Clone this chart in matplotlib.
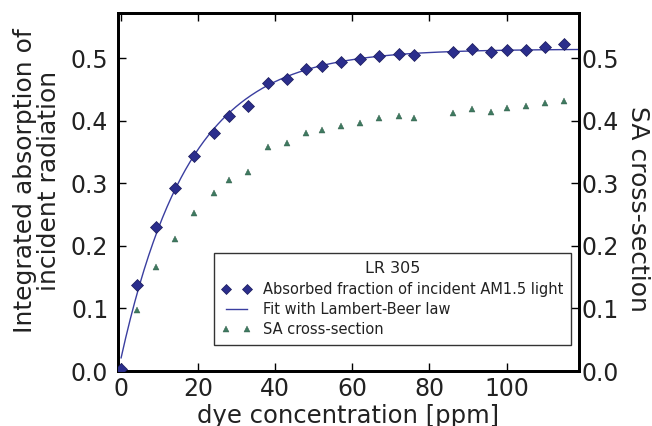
import numpy as np
import matplotlib
matplotlib.use("Agg")
import matplotlib.pyplot as plt

# concentration [ppm]
conc = [0, 4, 9, 14, 19, 24, 28, 33, 38, 43, 48, 52, 57, 62, 67, 72, 76,
        86, 91, 96, 100, 105, 110, 115]
absorbed = [0.004, 0.137, 0.230, 0.293, 0.343, 0.381, 0.408, 0.423, 0.460,
            0.467, 0.483, 0.487, 0.493, 0.498, 0.504, 0.507, 0.505,
            0.510, 0.514, 0.509, 0.513, 0.513, 0.518, 0.522]
sa_cross = [0.0, 0.098, 0.166, 0.211, 0.252, 0.284, 0.306, 0.318, 0.358,
            0.364, 0.381, 0.385, 0.391, 0.396, 0.404, 0.408, 0.405,
            0.413, 0.418, 0.414, 0.420, 0.423, 0.429, 0.432]
yticks = [0.0, 0.1, 0.2, 0.3, 0.4, 0.5]
xticks = [0, 20, 40, 60, 80, 100]

# Lambert-Beer fit: y = a*(1-exp(-k c)) + b, least squares over k grid
c_arr = np.array(conc, dtype=float)
a_arr = np.array(absorbed)
best = None
for k in np.linspace(0.01, 0.2, 1901):
    A = np.column_stack([1 - np.exp(-k * c_arr), np.ones_like(c_arr)])
    coef, res, _, _ = np.linalg.lstsq(A, a_arr, rcond=None)
    r = np.sum((A @ coef - a_arr) ** 2)
    if best is None or r < best[0]:
        best = (r, k, coef)
_, k_fit, (a_fit, b_fit) = best
c_fit = np.linspace(0, 119, 400)
y_fit = a_fit * (1 - np.exp(-k_fit * c_fit)) + b_fit

plt.rcParams['font.family'] = ['DejaVu Sans']
txt = '#222222'
fig = plt.figure(figsize=(6.52, 4.26), dpi=100)
ax = fig.add_axes([0.181, 0.129, 0.707, 0.8405])
ax2 = ax.twinx()

dcol = '#2b2e8c'
tcol = '#3f7a60'
l1, = ax.plot(conc, absorbed, 'D', color=dcol, mec='#1a1a5a', mew=0.5, ms=6,
              label='Absorbed fraction of incident AM1.5 light', zorder=3)
l2, = ax.plot(c_fit, y_fit, '-', color='#3a3ea0', lw=1.0,
              label='Fit with Lambert-Beer law', zorder=2)
l3, = ax2.plot(conc, sa_cross, '^', color=tcol, mec='#2f5a48', mew=0.3, ms=4.7,
               label='SA cross-section')

for a in (ax, ax2):
    a.set_ylim(0, 0.572)
    a.set_yticks(yticks)
    a.set_yticklabels([f'{v:.1f}' for v in yticks])
    a.tick_params(direction='in', labelsize=17, length=6, width=1,
                  labelcolor=txt)
    for s in a.spines.values():
        s.set_linewidth(2)
ax.set_xlim(-0.8, 118.8)
ax.set_xticks(xticks)
ax.set_xticklabels([str(v) for v in xticks])
ax.tick_params(axis='x', top=True, direction='in', pad=4)
ax.tick_params(axis='y', pad=7)
ax2.tick_params(axis='y', pad=2)

ax.set_xlabel('dye concentration [ppm]', fontsize=17.5, color=txt)
ax.xaxis.set_label_coords(0.5, -0.093)
ax.set_ylabel('Integrated absorption of\nincident radiation', fontsize=18,
              linespacing=1.0, color=txt)
ax.yaxis.set_label_coords(-0.124, 0.532)
ax2.set_ylabel('SA cross-section', fontsize=18, rotation=270, va='bottom',
               color=txt)
ax2.yaxis.set_label_coords(1.1015, 0.4525)

leg = ax.legend(handles=[l1, l2, l3], title='LR 305', loc='lower right',
                bbox_to_anchor=(0.999, 0.052), fontsize=10.5, numpoints=2,
                title_fontsize=11.5, fancybox=False, framealpha=1,
                edgecolor='#333333', markerscale=0.85, borderpad=0.55,
                labelspacing=0.36, handlelength=2.0)
leg.get_frame().set_linewidth(1.0)
for t in leg.get_texts():
    t.set_color(txt)
leg.get_title().set_color(txt)
ax.set_zorder(ax2.get_zorder() + 1)
ax.patch.set_visible(False)

fig.savefig('out.png', dpi=100)
